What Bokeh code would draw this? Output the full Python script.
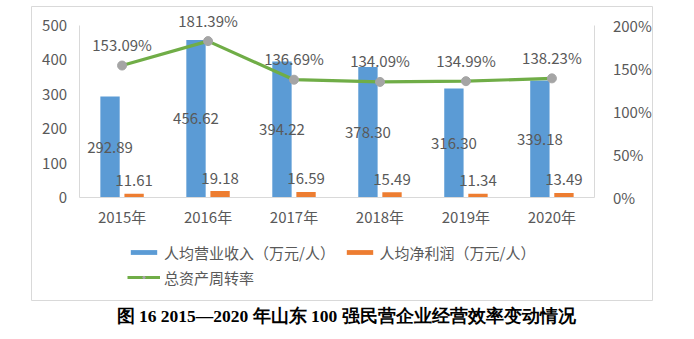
from bokeh.plotting import figure
from bokeh.models import (ColumnDataSource, Range1d, LinearAxis, FixedTicker,
                          PrintfTickFormatter, Legend, LegendItem, Title)
from bokeh.core.properties import value
from bokeh.embed import file_html
from bokeh.resources import INLINE

years = ["2015年", "2016年", "2017年", "2018年", "2019年", "2020年"]
revenue = [292.89, 456.62, 394.22, 378.30, 316.30, 339.18]
profit = [11.61, 19.18, 16.59, 15.49, 11.34, 13.49]
turnover = [153.09, 181.39, 136.69, 134.09, 134.99, 138.23]
left_ticks = [0, 100, 200, 300, 400, 500]
right_ticks = [0, 50, 100, 150, 200]
series_names = ["人均营业收入（万元/人）  ", "人均净利润（万元/人）", "总资产周转率"]
title_text = "图 16  2015—2020 年山东 100 强民营企业经营效率变动情况"

BLUE = "#5B9BD5"
ORANGE = "#ED7D31"
GREEN = "#70AD47"
GRAY = "#A5A5A5"
TXT = "#595959"
AXC = "#D9D9D9"
FONT = "Noto Sans CJK SC"

# category positions on a numeric axis (one unit per category)
xc = [i + 0.5 for i in range(len(years))]
off = 0.14
src = ColumnDataSource(dict(
    x=xc, xb=[v - off for v in xc], xo=[v + off for v in xc],
    rev=revenue, rev_mid=[v / 2 for v in revenue],
    rev_lbl=[f"{v:.2f}" for v in revenue],
    prof=profit, prof_lbl=[f"{v:.2f}" for v in profit],
    turn=turnover, turn_lbl=[f"{v:.2f}%" for v in turnover],
))

# frame = outer chart box; data area inset inside it
px_x = 515 / 6.0       # pixels per category
px_y = 172 / 500.0     # pixels per left-axis unit
x0 = -(79 - 31.5) / px_x
x1 = 6 + (651.5 - 594) / px_x
y0 = -(299.5 - 197) / px_y
y1 = 500 + (25 - 6.5) / px_y

p = figure(x_range=Range1d(x0, x1), y_range=Range1d(y0, y1), width=694, height=339,
           output_backend="svg", toolbar_location=None,
           min_border_left=31, min_border_right=42, min_border_top=6,
           min_border_bottom=39, x_axis_location=None, y_axis_location=None)
p.extra_y_ranges = {"pct": Range1d(y0 * 0.4, y1 * 0.4)}
p.outline_line_color = AXC
p.outline_line_width = 1
p.grid.grid_line_color = None
p.background_fill_color = "white"
p.border_fill_color = "white"

b1 = p.vbar(x="xb", top="rev", width=0.225, source=src, color=BLUE, line_color=None)
b2 = p.vbar(x="xo", top="prof", width=0.225, source=src, color=ORANGE, line_color=None)
ln = p.line(x="x", y="turn", source=src, y_range_name="pct",
            line_color=GREEN, line_width=3.2)
sc = p.scatter(x="x", y="turn", source=src, y_range_name="pct",
               size=9, fill_color=GRAY, line_color=GRAY)

p.text(x="xb", y="rev_mid", text="rev_lbl", source=src,
       text_align="center", text_baseline="middle", text_color=TXT,
       text_font=value(FONT), text_font_size="15px")
p.text(x="xo", y="prof", text="prof_lbl", source=src,
       text_align="center", text_baseline="middle", text_color=TXT, y_offset=-13,
       text_font=value(FONT), text_font_size="15px")
p.text(x="x", y="turn", text="turn_lbl", source=src, y_range_name="pct",
       text_align="center", text_baseline="middle", text_color=TXT, y_offset=-21,
       text_font=value(FONT), text_font_size="15px")


def style(ax, standoff):
    ax.axis_line_color = AXC
    ax.major_tick_line_color = None
    ax.minor_tick_line_color = None
    ax.major_label_text_color = TXT
    ax.major_label_text_font = FONT
    ax.major_label_text_font_size = "15px"
    ax.major_label_standoff = standoff


la = LinearAxis(ticker=FixedTicker(ticks=left_ticks), bounds=(0, 500), fixed_location=0)
style(la, 6)
p.add_layout(la, "left")

ra = LinearAxis(y_range_name="pct", ticker=FixedTicker(ticks=right_ticks), bounds=(0, 200),
                formatter=PrintfTickFormatter(format="%d%%"), fixed_location=6)
style(ra, 12)
p.add_layout(ra, "right")

ba = LinearAxis(ticker=FixedTicker(ticks=xc), bounds=(0, 6), fixed_location=0,
                major_label_overrides={v: y for v, y in zip(xc, years)})
style(ba, 2)
p.add_layout(ba, "below")

legend = Legend(items=[
    LegendItem(label=series_names[0], renderers=[b1]),
    LegendItem(label=series_names[1], renderers=[b2]),
    LegendItem(label=series_names[2], renderers=[ln, sc]),
], location=(127 - 31, 300 - 289), orientation="horizontal", nrows=2)
legend.label_text_font = FONT
legend.label_text_font_size = "15px"
legend.label_text_color = TXT
legend.label_height = 24
legend.glyph_width = 33
legend.glyph_height = 6
legend.label_standoff = 4
legend.spacing = 1
legend.padding = 0
legend.margin = 0
legend.border_line_color = None
legend.background_fill_alpha = 0
p.add_layout(legend, "center")

p.add_layout(Title(text=title_text, align="left", offset=116 - 31, standoff=7,
                   text_font="Liberation Serif", text_font_style="bold",
                   text_font_size="17.5px", text_color="#000000"), "below")

out = file_html(p, INLINE)
open("out.html", "w").write(out)
